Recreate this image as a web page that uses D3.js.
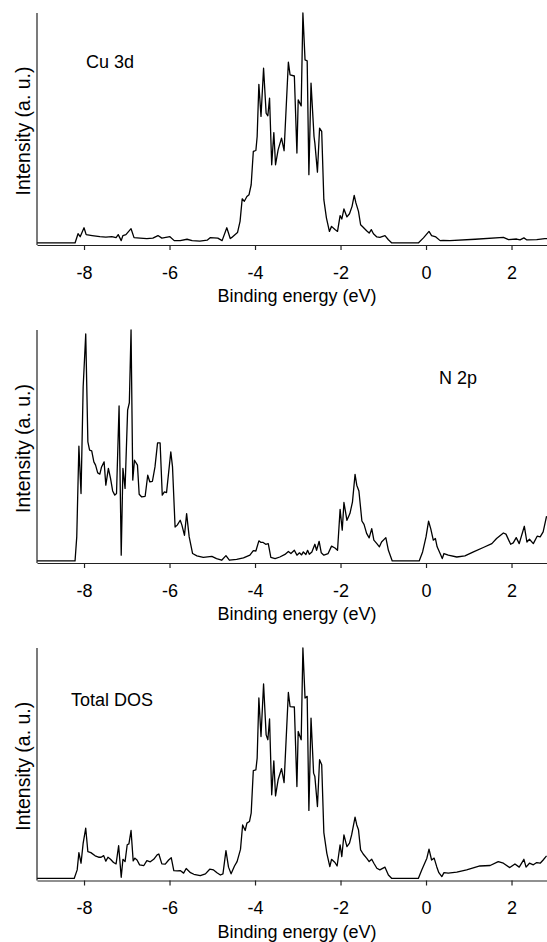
<!DOCTYPE html>
<html>
<head>
<meta charset="utf-8">
<title>DOS</title>
<script src="https://cdn.jsdelivr.net/npm/d3@7"></script>
<style>
    body { margin: 0; background: #fff; }
    text { font-family: "Liberation Sans", Arial, Helvetica, sans-serif; }
</style>
</head>
<body>
<script>

// binding energy ticks (eV)
var energyTicks = [-8, -6, -4, -2, 0, 2];

// panel names
var panelLabels = ["Cu 3d", "N 2p", "Total DOS"];

// Cu 3d partial DOS, [energy (eV), intensity (a.u.)]
var cu3d = [
    [-9.10, 0], [-8.21, 0], [-8.14, 4.0], [-8.09, 2.7], [-8.00, 6.6], [-7.95, 3.6], [-7.81, 3.2],
    [-7.63, 2.7], [-7.49, 2.5], [-7.35, 2.7], [-7.25, 2.3], [-7.20, 3.6], [-7.13, 1.0], [-7.09, 3.2],
    [-7.02, 3.6], [-6.90, 6.2], [-6.83, 2.3], [-6.69, 2.1], [-6.53, 1.9], [-6.39, 2.1], [-6.27, 3.2],
    [-6.18, 2.1], [-5.99, 2.7], [-5.89, 1.0], [-5.75, 1.0], [-5.59, 1.6], [-5.47, 1.0], [-5.29, 0.8],
    [-5.12, 1.2], [-5.05, 2.3], [-4.87, 2.1], [-4.77, 1.0], [-4.66, 6.6], [-4.58, 1.9], [-4.55, 2.3],
    [-4.47, 3.6], [-4.41, 4.5], [-4.35, 9.4], [-4.30, 19.2], [-4.25, 18.1], [-4.19, 20.2], [-4.14, 21.0],
    [-4.09, 25.3], [-4.04, 39.8], [-3.98, 40.2], [-3.95, 46.3], [-3.91, 69.0], [-3.86, 55.0], [-3.80, 76.0],
    [-3.74, 56.4], [-3.70, 55.3], [-3.66, 63.0], [-3.61, 34.0], [-3.56, 48.0], [-3.52, 34.0], [-3.46, 40.5],
    [-3.38, 45.6], [-3.32, 40.1], [-3.22, 78.6], [-3.18, 73.1], [-3.08, 72.6], [-3.02, 39.1], [-2.99, 62.2],
    [-2.92, 59.6], [-2.88, 100], [-2.83, 79.6], [-2.78, 79.2], [-2.74, 29.7], [-2.69, 69.5], [-2.62, 46.3],
    [-2.60, 43.4], [-2.54, 30.8], [-2.49, 49.9], [-2.44, 48.5], [-2.39, 18.8], [-2.33, 10.9], [-2.26, 5.0],
    [-2.21, 7.2], [-2.13, 5.8], [-2.07, 5.0], [-2.01, 11.9], [-1.97, 10.4], [-1.92, 14.8], [-1.85, 11.3],
    [-1.79, 12.7], [-1.73, 15.9], [-1.68, 20.7], [-1.64, 17.4], [-1.58, 13.7], [-1.53, 7.9], [-1.47, 6.8],
    [-1.39, 5.3], [-1.33, 4.3], [-1.28, 5.8], [-1.23, 4.0], [-1.15, 2.6], [-1.08, 2.4], [-0.96, 3.2],
    [-0.88, 1.4], [-0.80, 0], [-0.18, 0], [-0.06, 2.2], [0.07, 5.0], [0.13, 3.2], [0.23, 2.6],
    [0.33, 1.0], [0.40, 1.1], [0.56, 1.0], [1.15, 1.6], [1.81, 2.4], [1.93, 1.4], [2.12, 1.7],
    [2.20, 1.3], [2.29, 2.2], [2.36, 1.3], [2.59, 1.4], [2.78, 1.9], [2.83, 1.9]
];

// N 2p partial DOS
var n2p = [
    [-9.10, 0], [-8.21, 0], [-8.17, 10.4], [-8.12, 49.7], [-8.07, 29.2], [-8.02, 75.4], [-7.96, 98.3],
    [-7.91, 51.6], [-7.87, 48.0], [-7.82, 47.7], [-7.77, 42.9], [-7.73, 41.5], [-7.68, 38.1], [-7.63, 37.6],
    [-7.59, 40.7], [-7.53, 42.9], [-7.49, 32.8], [-7.43, 40.1], [-7.38, 35.7], [-7.33, 30.3], [-7.28, 28.5],
    [-7.24, 29.2], [-7.18, 67.1], [-7.13, 2.5], [-7.09, 40.1], [-7.04, 31.4], [-6.98, 65.3], [-6.94, 68.5],
    [-6.90, 100], [-6.86, 35.0], [-6.82, 43.6], [-6.75, 41.5], [-6.71, 28.9], [-6.65, 27.7], [-6.57, 28.0],
    [-6.51, 37.1], [-6.46, 34.2], [-6.40, 34.5], [-6.34, 40.7], [-6.28, 51.1], [-6.22, 51.1], [-6.17, 28.5],
    [-6.12, 29.9], [-6.07, 29.6], [-5.97, 47.2], [-5.93, 40.7], [-5.87, 14.7], [-5.82, 15.5], [-5.75, 17.6],
    [-5.71, 15.5], [-5.65, 11.1], [-5.60, 20.5], [-5.54, 10.4], [-5.46, 3.2], [-5.36, 2.2], [-5.21, 1.5],
    [-5.01, 2.0], [-4.90, 1.0], [-4.78, 0.3], [-4.68, 2.3], [-4.60, 0.3], [-4.43, 0.7], [-4.27, 1.3],
    [-4.12, 2.5], [-4.04, 4.5], [-3.98, 4.3], [-3.91, 8.7], [-3.86, 8.0], [-3.81, 8.0], [-3.75, 7.2],
    [-3.69, 7.5], [-3.63, 1.5], [-3.53, 1.0], [-3.42, 1.7], [-3.30, 2.8], [-3.22, 4.1], [-3.16, 3.2],
    [-3.08, 4.6], [-3.02, 2.5], [-2.96, 3.5], [-2.91, 2.6], [-2.87, 3.9], [-2.81, 2.8], [-2.77, 4.6],
    [-2.73, 2.9], [-2.67, 3.9], [-2.60, 7.2], [-2.56, 4.6], [-2.50, 8.5], [-2.45, 3.5], [-2.39, 2.5],
    [-2.29, 3.2], [-2.21, 6.4], [-2.13, 5.6], [-2.07, 4.6], [-2.01, 22.3], [-1.96, 13.3], [-1.92, 25.3],
    [-1.85, 17.6], [-1.78, 20.5], [-1.72, 25.6], [-1.66, 37.5], [-1.62, 32.8], [-1.57, 30.3], [-1.50, 17.3],
    [-1.45, 15.8], [-1.39, 11.9], [-1.33, 10.0], [-1.27, 14.0], [-1.22, 9.0], [-1.15, 7.5], [-1.09, 6.1],
    [-1.04, 8.2], [-0.94, 10.1], [-0.88, 4.6], [-0.79, 0], [-0.16, 0], [-0.08, 3.9], [0.00, 10.4],
    [0.06, 17.2], [0.11, 14.0], [0.17, 9.0], [0.22, 9.7], [0.26, 6.1], [0.33, 3.2], [0.38, 1.0],
    [0.42, 3.2], [0.52, 2.5], [0.72, 1.7], [0.91, 2.2], [1.11, 3.9], [1.34, 5.8], [1.54, 7.5],
    [1.65, 9.7], [1.81, 12.1], [1.87, 11.6], [1.98, 7.2], [2.04, 7.8], [2.11, 10.1], [2.18, 7.5],
    [2.30, 15.0], [2.36, 8.2], [2.42, 9.4], [2.51, 7.5], [2.60, 10.7], [2.67, 10.4], [2.74, 12.6],
    [2.82, 19.4]
];

// total DOS
var totalDos = [
    [-9.10, 0], [-8.23, 0], [-8.16, 3.7], [-8.12, 11.2], [-8.07, 6.6], [-8.02, 15.3], [-7.96, 21.8],
    [-7.91, 11.6], [-7.84, 11.2], [-7.74, 9.8], [-7.66, 9.2], [-7.60, 9.2], [-7.54, 9.9], [-7.49, 7.5],
    [-7.44, 9.2], [-7.38, 8.3], [-7.31, 6.9], [-7.25, 6.3], [-7.19, 14.2], [-7.13, 0.5], [-7.09, 8.3],
    [-7.04, 7.3], [-6.99, 14.6], [-6.95, 15.0], [-6.90, 20.8], [-6.85, 7.6], [-6.81, 8.8], [-6.76, 8.0],
    [-6.70, 5.9], [-6.60, 5.6], [-6.53, 7.7], [-6.45, 7.2], [-6.37, 8.3], [-6.29, 10.2], [-6.25, 10.6],
    [-6.18, 6.3], [-6.10, 6.2], [-6.02, 8.0], [-5.96, 9.0], [-5.90, 3.4], [-5.82, 3.3], [-5.75, 3.4],
    [-5.67, 2.3], [-5.61, 4.3], [-5.51, 2.5], [-5.43, 1.8], [-5.28, 1.2], [-5.16, 2.0], [-5.06, 4.0],
    [-4.97, 3.7], [-4.89, 2.5], [-4.81, 1.5], [-4.75, 2.0], [-4.68, 12.1], [-4.62, 4.9], [-4.56, 2.0],
    [-4.48, 5.4], [-4.42, 7.3], [-4.34, 12.6], [-4.29, 23.2], [-4.23, 20.8], [-4.19, 24.0], [-4.13, 24.7],
    [-4.09, 28.3], [-4.04, 46.8], [-3.98, 47.1], [-3.95, 52.2], [-3.91, 78.3], [-3.86, 61.6], [-3.80, 84.4],
    [-3.74, 62.3], [-3.70, 60.2], [-3.66, 69.2], [-3.61, 36.3], [-3.56, 51.0], [-3.52, 35.8], [-3.46, 42.8],
    [-3.38, 47.6], [-3.32, 41.6], [-3.22, 80.7], [-3.18, 74.6], [-3.08, 74.4], [-3.02, 39.9], [-2.99, 63.8],
    [-2.92, 60.2], [-2.88, 100], [-2.83, 78.3], [-2.78, 79.0], [-2.74, 29.5], [-2.69, 69.6], [-2.63, 45.7],
    [-2.60, 44.2], [-2.54, 31.2], [-2.49, 51.5], [-2.44, 49.3], [-2.39, 19.9], [-2.32, 10.9], [-2.25, 5.1],
    [-2.21, 8.3], [-2.13, 6.9], [-2.08, 5.4], [-2.01, 14.6], [-1.97, 9.5], [-1.92, 18.9], [-1.85, 13.8],
    [-1.79, 15.3], [-1.74, 18.9], [-1.66, 26.6], [-1.62, 23.2], [-1.58, 21.1], [-1.53, 12.4], [-1.47, 10.6],
    [-1.39, 8.8], [-1.33, 7.3], [-1.27, 8.3], [-1.22, 6.6], [-1.15, 4.4], [-1.08, 3.7], [-0.96, 4.9],
    [-0.88, 1.5], [-0.80, 0], [-0.18, 0], [-0.10, 3.7], [0.02, 8.8], [0.07, 12.7], [0.13, 8.0],
    [0.19, 8.8], [0.25, 5.1], [0.30, 2.5], [0.37, 0.8], [0.42, 2.5], [0.52, 2.3], [0.72, 2.7],
    [0.95, 3.7], [1.26, 5.4], [1.50, 5.6], [1.69, 7.3], [1.81, 6.6], [1.96, 4.7], [2.08, 6.3],
    [2.18, 4.9], [2.29, 8.3], [2.34, 4.9], [2.42, 6.6], [2.51, 5.9], [2.59, 6.9], [2.67, 6.6],
    [2.74, 8.0], [2.82, 9.8]
];

var seriesList = [cu3d, n2p, totalDos];

window.onload = function(){

    var width = 547, height = 942;

    // panel frames (top of y axis, bottom axis) and label positions
    var panels = [
        {top: 13, bottom: 245, labelX: 86, labelY: 68},
        {top: 330, bottom: 563, labelX: 439, labelY: 384},
        {top: 648, bottom: 880.5, labelX: 71, labelY: 706}
    ];

    var svg = d3.select("body")
        .append("svg")
        .attr("width", width)
        .attr("height", height);

    var x = d3.scaleLinear()
        .domain([-9.1, 2.83])
        .range([37, width]);

    panels.forEach(function(p, idx){

        var y = d3.scaleLinear()
            .domain([-0.9, 100])
            .range([p.bottom, p.top]);

        var g = svg.append("g").attr("class", "panel");

        // curve
        var line = d3.line()
            .x(function(d) { return x(d[0]); })
            .y(function(d) { return y(d[1]); });

        g.append("path")
            .datum(seriesList[idx])
            .attr("fill", "none")
            .attr("stroke", "#000")
            .attr("stroke-width", 1.3)
            .attr("stroke-linejoin", "round")
            .attr("d", line);

        // bottom axis
        var xAxis = g.append("g")
            .attr("transform", "translate(0," + p.bottom + ")")
            .call(d3.axisBottom(x)
                .tickValues(energyTicks)
                .tickSize(5)
                .tickSizeOuter(0)
                .tickPadding(16)
                .tickFormat(function(d) { return String(d); }));
        xAxis.select(".domain").attr("stroke", "#222").attr("stroke-width", 1.2);
        xAxis.selectAll(".tick line").attr("stroke", "#222").attr("stroke-width", 1.2);
        xAxis.selectAll(".tick text")
            .attr("font-family", "Liberation Sans, Arial, sans-serif")
            .attr("font-size", "18px")
            .attr("fill", "#000");

        // left axis, no ticks
        g.append("line")
            .attr("x1", x(-9.1)).attr("x2", x(-9.1))
            .attr("y1", p.top).attr("y2", p.bottom)
            .attr("stroke", "#222")
            .attr("stroke-width", 1.2);

        // axis titles
        g.append("text")
            .text("Binding energy (eV)")
            .attr("x", (x(-9.1) + width) / 2 + 5)
            .attr("y", p.bottom + 57)
            .attr("text-anchor", "middle")
            .attr("font-size", "18px");

        g.append("text")
            .text("Intensity (a. u.)")
            .attr("transform", "translate(30," + ((p.top + p.bottom) / 2 + 2) + ") rotate(-90)")
            .attr("text-anchor", "middle")
            .attr("font-size", "19.5px");

        // panel label
        g.append("text")
            .text(panelLabels[idx])
            .attr("x", p.labelX)
            .attr("y", p.labelY)
            .attr("font-size", "18px");
    });
};
</script>
</body>
</html>
